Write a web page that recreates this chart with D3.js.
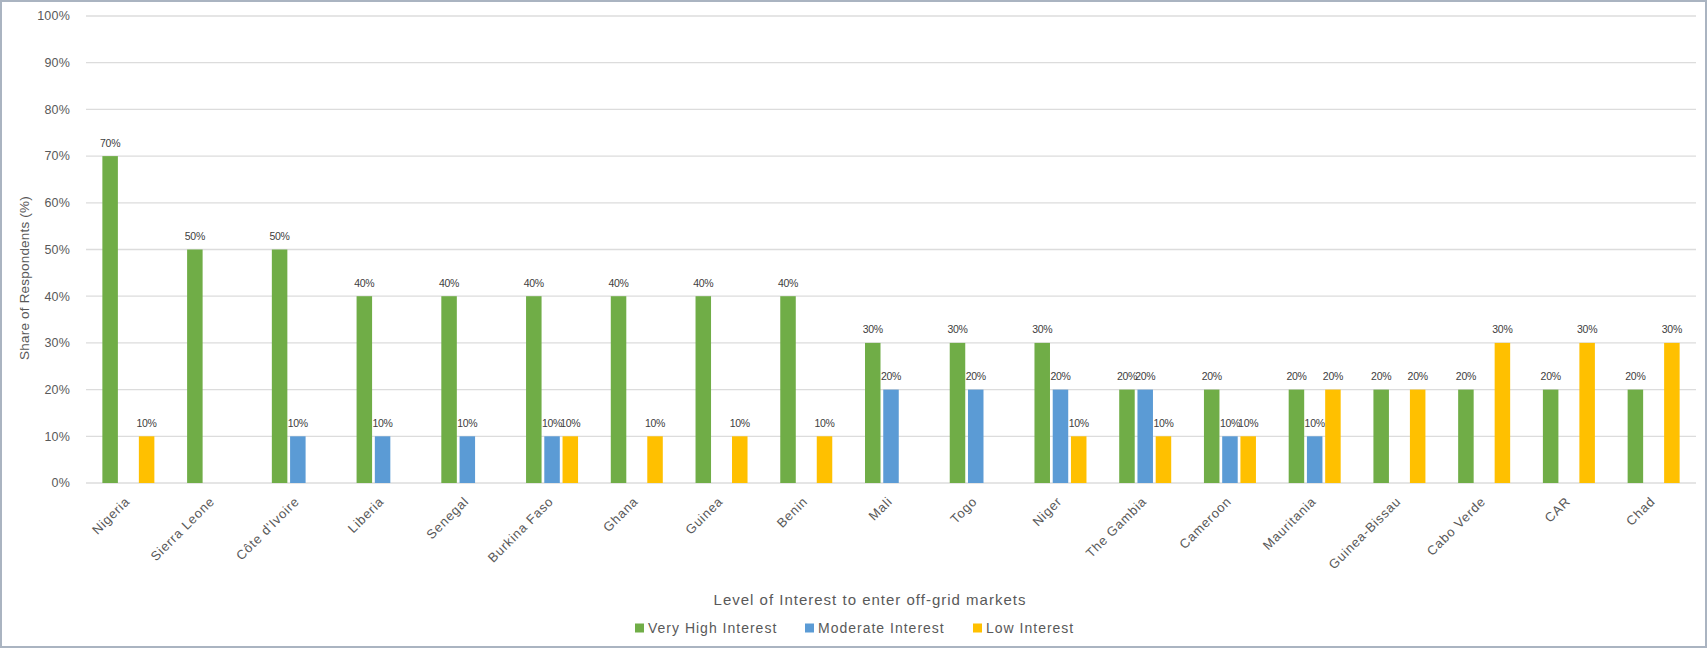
<!DOCTYPE html>
<html>
<head>
<meta charset="utf-8">
<script src="https://cdn.jsdelivr.net/npm/d3@7"></script>
<style>
  body { margin: 0; background: #fff; }
  svg { display: block; }
</style>
</head>
<body>
<svg width="1707" height="649"></svg>
<script>
var countries = ["Nigeria", "Sierra Leone", "Côte d'Ivoire", "Liberia", "Senegal", "Burkina Faso",
  "Ghana", "Guinea", "Benin", "Mali", "Togo", "Niger", "The Gambia", "Cameroon", "Mauritania",
  "Guinea-Bissau", "Cabo Verde", "CAR", "Chad"];

var veryHigh = [70, 50, 50, 40, 40, 40, 40, 40, 40, 30, 30, 30, 20, 20, 20, 20, 20, 20, 20];
var moderate = [0, 0, 10, 10, 10, 10, 0, 0, 0, 20, 20, 20, 20, 10, 10, 0, 0, 0, 0];
var low      = [10, 0, 0, 0, 0, 10, 10, 10, 10, 0, 0, 10, 10, 10, 20, 20, 30, 30, 30];

var seriesNames = ["Very High Interest", "Moderate Interest", "Low Interest"];
var seriesColors = ["#70ad47", "#5b9bd5", "#ffc000"];
var yTicks = [0, 10, 20, 30, 40, 50, 60, 70, 80, 90, 100];

var svg = d3.select("svg"),
    width = +svg.attr("width"),
    height = +svg.attr("height");

var font = "Liberation Sans, Arial, sans-serif";

// frame around the chart
svg.append("rect")
    .attr("x", 1).attr("y", 1)
    .attr("width", width - 2).attr("height", height - 3)
    .attr("fill", "#fff")
    .attr("stroke", "#aab4c1")
    .attr("stroke-width", 2);

var plotLeft = 86, plotRight = 1696, plotTop = 16, plotBottom = 483;

var x0 = d3.scaleBand().domain(countries).range([plotLeft, plotRight]);
var groupW = 52;
var x1 = d3.scaleBand().domain(seriesNames).range([0, groupW]).paddingInner(0.15);
var y = d3.scaleLinear().domain([0, 100]).range([plotBottom, plotTop]);

// gridlines
svg.append("g")
  .selectAll("line")
  .data(yTicks)
  .enter().append("line")
    .attr("x1", plotLeft).attr("x2", plotRight)
    .attr("y1", function(d) { return y(d); })
    .attr("y2", function(d) { return y(d); })
    .attr("stroke", "#dcdcdc")
    .attr("stroke-width", 1.3);

// y tick labels
svg.append("g")
  .selectAll("text")
  .data(yTicks)
  .enter().append("text")
    .attr("x", 70)
    .attr("y", function(d) { return y(d); })
    .attr("dy", "0.35em")
    .attr("text-anchor", "end")
    .attr("font-family", font)
    .attr("font-size", 12.5)
    .attr("letter-spacing", 0.2)
    .attr("fill", "#595959")
    .text(function(d) { return d + "%"; });

// y axis title
svg.append("text")
    .attr("transform", "translate(29,278) rotate(-90)")
    .attr("text-anchor", "middle")
    .attr("font-family", font)
    .attr("font-size", 13.5)
    .attr("letter-spacing", 0.2)
    .attr("fill", "#595959")
    .text("Share of Respondents (%)");

var rows = countries.map(function(c, i) {
  return { country: c, values: [veryHigh[i], moderate[i], low[i]] };
});

var groups = svg.append("g")
  .selectAll("g")
  .data(rows)
  .enter().append("g")
    .attr("transform", function(d) {
      return "translate(" + (x0(d.country) + (x0.bandwidth() - groupW) / 2) + ",0)";
    });

var cells = groups.selectAll("g")
  .data(function(d) {
    return d.values.map(function(v, j) { return { key: seriesNames[j], value: v, idx: j }; })
      .filter(function(e) { return e.value > 0; });
  })
  .enter().append("g");

cells.append("rect")
    .attr("x", function(d) { return x1(d.key); })
    .attr("y", function(d) { return y(d.value); })
    .attr("width", x1.bandwidth())
    .attr("height", function(d) { return plotBottom - y(d.value); })
    .attr("fill", function(d) { return seriesColors[d.idx]; });

// value labels, slightly condensed so neighbours just touch
cells.append("text")
    .attr("x", function(d) { return x1(d.key) + x1.bandwidth() / 2; })
    .attr("y", function(d) { return y(d.value) - 9.5; })
    .attr("text-anchor", "middle")
    .attr("font-family", font)
    .attr("font-size", 10.5)
    .attr("letter-spacing", -0.3)
    .attr("fill", "#404040")
    .text(function(d) { return d.value + "%"; });

// category labels
svg.append("g")
  .selectAll("text")
  .data(countries)
  .enter().append("text")
    .attr("transform", function(d) {
      return "translate(" + (x0(d) + x0.bandwidth() / 2 - 1) + ",499) rotate(-45)";
    })
    .attr("text-anchor", "end")
    .attr("dy", "0.35em")
    .attr("font-family", font)
    .attr("font-size", 13)
    .attr("letter-spacing", 0.8)
    .attr("fill", "#595959")
    .text(function(d) { return d; });

// x axis title
svg.append("text")
    .attr("x", 870)
    .attr("y", 605)
    .attr("text-anchor", "middle")
    .attr("font-family", font)
    .attr("font-size", 15)
    .attr("letter-spacing", 1)
    .attr("fill", "#595959")
    .text("Level of Interest to enter off-grid markets");

// legend
var legendX = [635, 805, 973];
var legend = svg.append("g")
  .selectAll("g")
  .data(seriesNames)
  .enter().append("g")
    .attr("transform", function(d, i) { return "translate(" + legendX[i] + ",628)"; });

legend.append("rect")
    .attr("x", 0).attr("y", -4.5)
    .attr("width", 9).attr("height", 9)
    .attr("fill", function(d, i) { return seriesColors[i]; });

legend.append("text")
    .attr("x", 13)
    .attr("y", 0)
    .attr("dy", "0.35em")
    .attr("font-family", font)
    .attr("font-size", 14)
    .attr("letter-spacing", 1)
    .attr("fill", "#595959")
    .text(function(d) { return d; });
</script>
</body>
</html>
